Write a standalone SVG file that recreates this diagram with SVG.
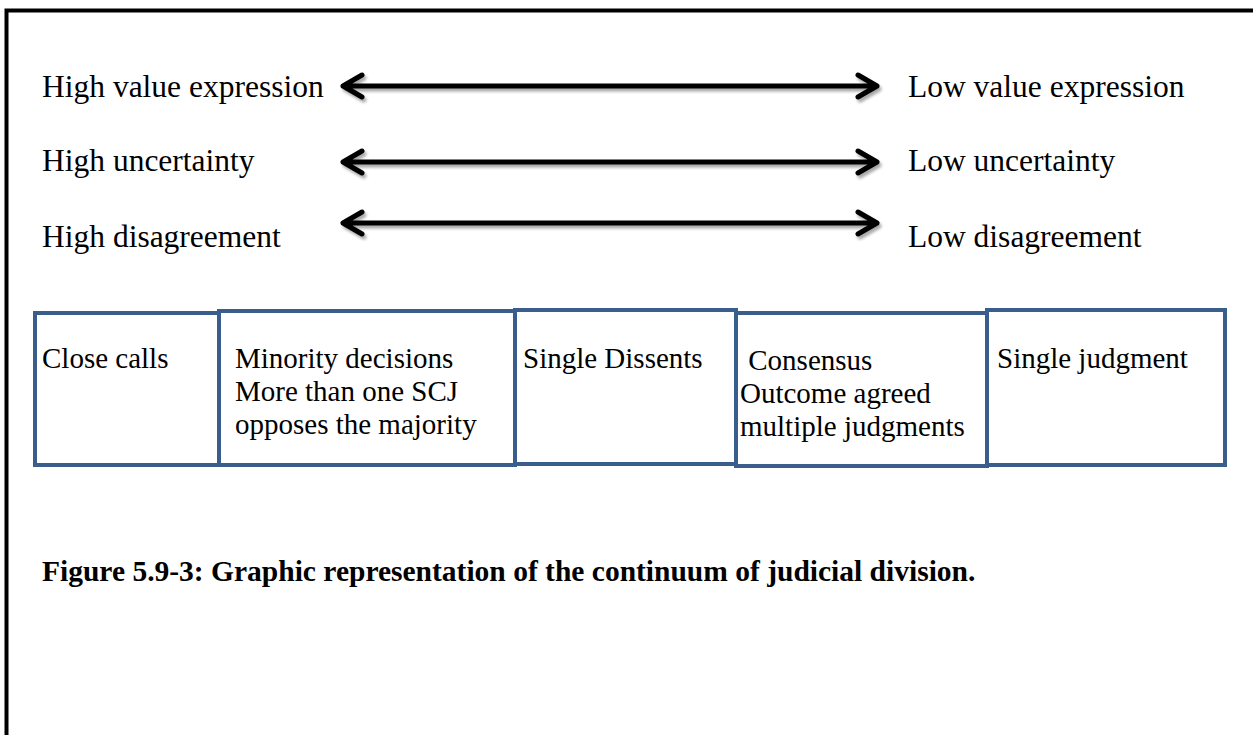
<svg xmlns="http://www.w3.org/2000/svg" width="1253" height="735" viewBox="0 0 1253 735">
<style>
.t{font-family:"Liberation Serif","Times New Roman",serif;font-size:31.5px;fill:#000}
.b{font-family:"Liberation Serif","Times New Roman",serif;font-size:29px;fill:#000}
.cap{font-family:"Liberation Serif","Times New Roman",serif;font-size:29.5px;font-weight:bold;fill:#000}
.box{fill:#fff;stroke:#3A5E8C;stroke-width:4}
.arr{stroke:#000;stroke-width:5;fill:none;stroke-linecap:round;stroke-linejoin:round}
</style>
<defs>
<filter id="sh" x="-5%" y="-50%" width="110%" height="200%">
<feGaussianBlur in="SourceAlpha" stdDeviation="1.5"/>
<feOffset dx="2" dy="3" result="o"/>
<feComponentTransfer><feFuncA type="linear" slope="0.35"/></feComponentTransfer>
<feMerge><feMergeNode/><feMergeNode in="SourceGraphic"/></feMerge>
</filter>
</defs>
<rect width="1253" height="735" fill="#fff"/>
<path d="M6.5,760 V10.5 H1270" fill="none" stroke="#000" stroke-width="4"/>
<g id="labels">
<text class="t" x="42" y="97">High value expression</text>
<text class="t" x="42" y="171">High uncertainty</text>
<text class="t" x="42" y="247">High disagreement</text>
<text class="t" x="908" y="97">Low value expression</text>
<text class="t" x="908" y="171">Low uncertainty</text>
<text class="t" x="908" y="247">Low disagreement</text>
</g>
<g id="connectors" filter="url(#sh)">
<path class="arr" d="M343,86 H877 M362,75 L343,86 L362,97 M858,75 L877,86 L858,97"/>
<path class="arr" d="M343,162 H877 M362,151 L343,162 L362,173 M858,151 L877,162 L858,173"/>
<path class="arr" d="M343,223 H877 M362,212 L343,223 L362,234 M858,212 L877,223 L858,234"/>
</g>
<g id="box1"><rect class="box" x="35" y="313" width="184" height="152"/><text class="b" x="42" y="368">Close calls</text></g>
<g id="box2"><rect class="box" x="219" y="311" width="296" height="154"/><text class="b" x="235" y="368">Minority decisions</text><text class="b" x="235" y="401">More than one SCJ</text><text class="b" x="235" y="434">opposes the majority</text></g>
<g id="box3"><rect class="box" x="515" y="310" width="221" height="154"/><text class="b" x="523" y="368">Single Dissents</text></g>
<g id="box4"><rect class="box" x="736" y="313" width="251" height="153"/><text class="b" x="741" y="370" xml:space="preserve"> Consensus</text><text class="b" x="740" y="403">Outcome agreed</text><text class="b" x="740" y="436">multiple judgments</text></g>
<g id="box5"><rect class="box" x="987" y="310" width="238" height="155"/><text class="b" x="997" y="368">Single judgment</text></g>
<text class="cap" x="42" y="581">Figure 5.9-3: Graphic representation of the continuum of judicial division.</text>
</svg>
